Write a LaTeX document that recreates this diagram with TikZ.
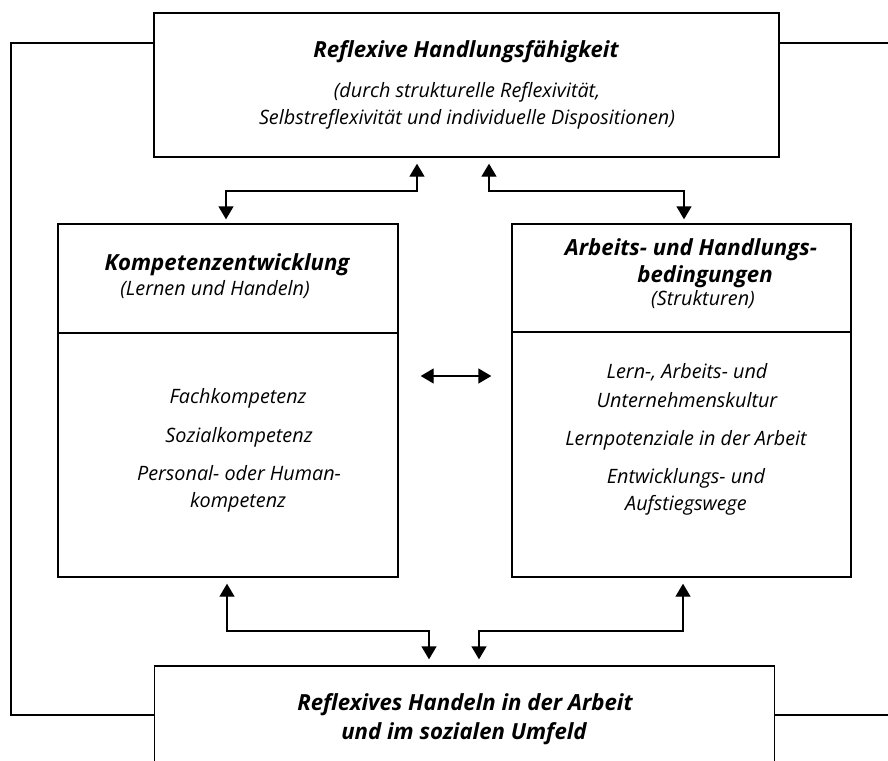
\documentclass[tikz,border=0pt]{standalone}
\usepackage{fontspec}
\setmainfont{Open Sans}
\usetikzlibrary{arrows.meta}
\begin{document}
\begin{tikzpicture}[x=1pt,y=-1pt,
  box/.style={draw, line width=1.4pt, rectangle, inner sep=0pt},
  divline/.style={line width=2.4pt},
  conn/.style={line width=1.4pt},
  darr/.style={conn, {Triangle[width=15pt,length=13pt]}-{Triangle[width=15pt,length=13pt]}},
  ttl/.style={anchor=base, inner sep=0pt, font=\fontsize{22.2}{25}\selectfont\bfseries\itshape},
  txt/.style={anchor=base, inner sep=0pt, font=\fontsize{19.8}{23}\selectfont\itshape}]
\useasboundingbox (0,0) rectangle (888,760);
\clip (0,0) rectangle (888,760);

% boxes
\node[box, minimum width=625, minimum height=144] (top) at (466.5,85) {};
\node[box, minimum width=340, minimum height=353] (lbox) at (228,400.5) {};
\node[box, minimum width=339, minimum height=353] (rbox) at (681.5,400.5) {};
\node[box, minimum width=620, minimum height=140] (bot) at (464.5,736) {};

% dividers
\draw[divline] (lbox.west |- 0,333) -- (lbox.east |- 0,333);
\draw[divline] (rbox.west |- 0,332) -- (rbox.east |- 0,332);

% texts
\node[ttl] (t1) at (466,57) {Reflexive Handlungsfähigkeit};
\node[txt] (t2) at (467,97) {(durch strukturelle Reflexivität,};
\node[txt] (t3) at (467,124) {Selbstreflexivität und individuelle Dispositionen)};

\node[ttl] (l1) at (227,270) {Kompetenzentwicklung};
\node[txt] (l2) at (215,295) {(Lernen und Handeln)};
\node[txt] (l3) at (238,403) {Fachkompetenz};
\node[txt] (l4) at (239,442) {Sozialkompetenz};
\node[txt] (l5) at (239,480) {Personal- oder Human-};
\node[txt] (l6) at (238,507) {kompetenz};

\node[ttl] (r1) at (691,255) {Arbeits- und Handlungs-};
\node[ttl] (r2) at (705,282) {bedingungen};
\node[txt] (r3) at (703,305) {(Strukturen)};
\node[txt] (r4) at (687,378) {Lern-, Arbeits- und};
\node[txt] (r5) at (687,407) {Unternehmenskultur};
\node[txt] (r6) at (686,445) {Lernpotenziale in der Arbeit};
\node[txt] (r7) at (686,483) {Entwicklungs- und};
\node[txt] (r8) at (686,510) {Aufstiegswege};

\node[ttl] (b1) at (465,710) {Reflexives Handeln in der Arbeit};
\node[ttl] (b2) at (464,739) {und im sozialen Umfeld};

% connectors top
\coordinate (ctl) at (417,191);
\coordinate (ctr) at (489,191);
\draw[darr, shorten <=6pt, shorten >=4pt] (top.south -| ctl) -- (ctl) -- (226,191) -- (lbox.north -| 226,0);
\draw[darr, shorten <=6pt, shorten >=4pt] (top.south -| ctr) -- (ctr) -- (684,191) -- (rbox.north -| 684,0);

% middle
\draw[darr, shorten <=22pt, shorten >=20pt] (lbox.east |- 0,376) -- (rbox.west |- 0,376);

% connectors bottom
\coordinate (cbl) at (429,631);
\coordinate (cbr) at (479,631);
\draw[darr, shorten <=6pt, shorten >=6pt] (lbox.south -| 227,0) -- (227,631) -- (cbl) -- (bot.north -| cbl);
\draw[darr, shorten <=6pt, shorten >=6pt] (rbox.south -| 683,0) -- (683,631) -- (cbr) -- (bot.north -| cbr);

% feedback lines
\coordinate (fl1) at (11,43);
\coordinate (fl2) at (11,715);
\coordinate (fr1) at (890,43);
\coordinate (fr2) at (890,715);
\draw[conn] (top.west |- fl1) -- (fl1) -- (fl2) -- (bot.west |- fl2);
\draw[conn] (top.east |- fr1) -- (fr1);
\draw[conn] (bot.east |- fr2) -- (fr2);
\end{tikzpicture}
\end{document}
